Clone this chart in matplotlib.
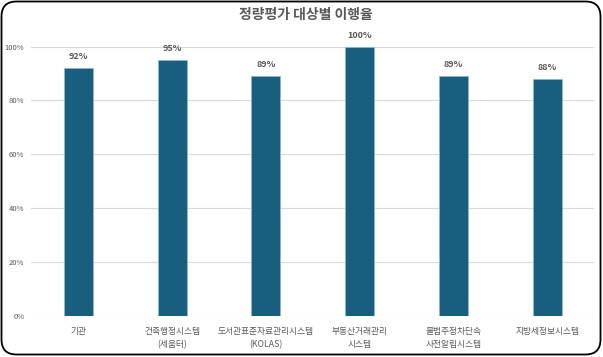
import matplotlib
matplotlib.use("Agg")
import matplotlib.pyplot as plt
from matplotlib.patches import FancyBboxPatch
from matplotlib.ticker import PercentFormatter

plt.rcParams['font.family'] = ['Noto Sans CJK KR', 'DejaVu Sans']

title = "정량평가 대상별 이행율"
categories = ["기관", "건축행정시스템\n(세움터)", "도서관표준자료관리시스템\n(KOLAS)",
              "부동산거래관리\n시스템", "불법주정차단속\n사전알림시스템", "지방세정보시스템"]
values = [0.92, 0.95, 0.89, 1.00, 0.89, 0.88]
labels = ["92%", "95%", "89%", "100%", "89%", "88%"]
yticks = [0, 0.2, 0.4, 0.6, 0.8, 1.0]

W, H = 603, 357
fig = plt.figure(figsize=(W / 100, H / 100), dpi=100)
fig.patch.set_facecolor('white')

# rounded chart border, in inches
border = FancyBboxPatch((0.015, 0.025), 5.99, 3.53,
                        boxstyle="round,pad=0,rounding_size=0.15",
                        transform=fig.dpi_scale_trans, fill=False, edgecolor='black',
                        linewidth=1.3)
fig.patches.append(border)

left, right, bottom, top = 31.4, 594, 316, 46.5
ax = fig.add_axes([left / W, 1 - bottom / H, (right - left) / W, (bottom - top) / H])

x = range(len(categories))
ax.bar(x, values, width=0.31, color='#175E7F', edgecolor='#8FB8CC',
       linewidth=0.6, zorder=3)
for xi, v, lab in zip(x, values, labels):
    ax.text(xi, v + 0.025, lab, ha='center', va='bottom', fontsize=6.5,
            fontweight='bold', color='#595959')

ax.set_xlim(-0.5, len(categories) - 0.5)
ax.set_ylim(0, 1.0)
ax.set_yticks(yticks)
ax.yaxis.set_major_formatter(PercentFormatter(1.0, decimals=0))
ax.set_xticks(list(x))
ax.set_xticklabels(categories, fontsize=6.3, color='#595959', linespacing=1.55)
ax.tick_params(axis='y', labelsize=5.5, labelcolor='#595959', length=0, pad=5)
ax.tick_params(axis='x', length=0, pad=8)
ax.grid(axis='y', color='#D9D9D9', linewidth=0.8, zorder=0)
for s in ax.spines.values():
    s.set_visible(False)

fig.text(306 / W, 1 - 15 / H, title, ha='center', va='center',
         fontsize=10, fontweight='bold', color='#595959')

fig.savefig('out.png', dpi=100)
